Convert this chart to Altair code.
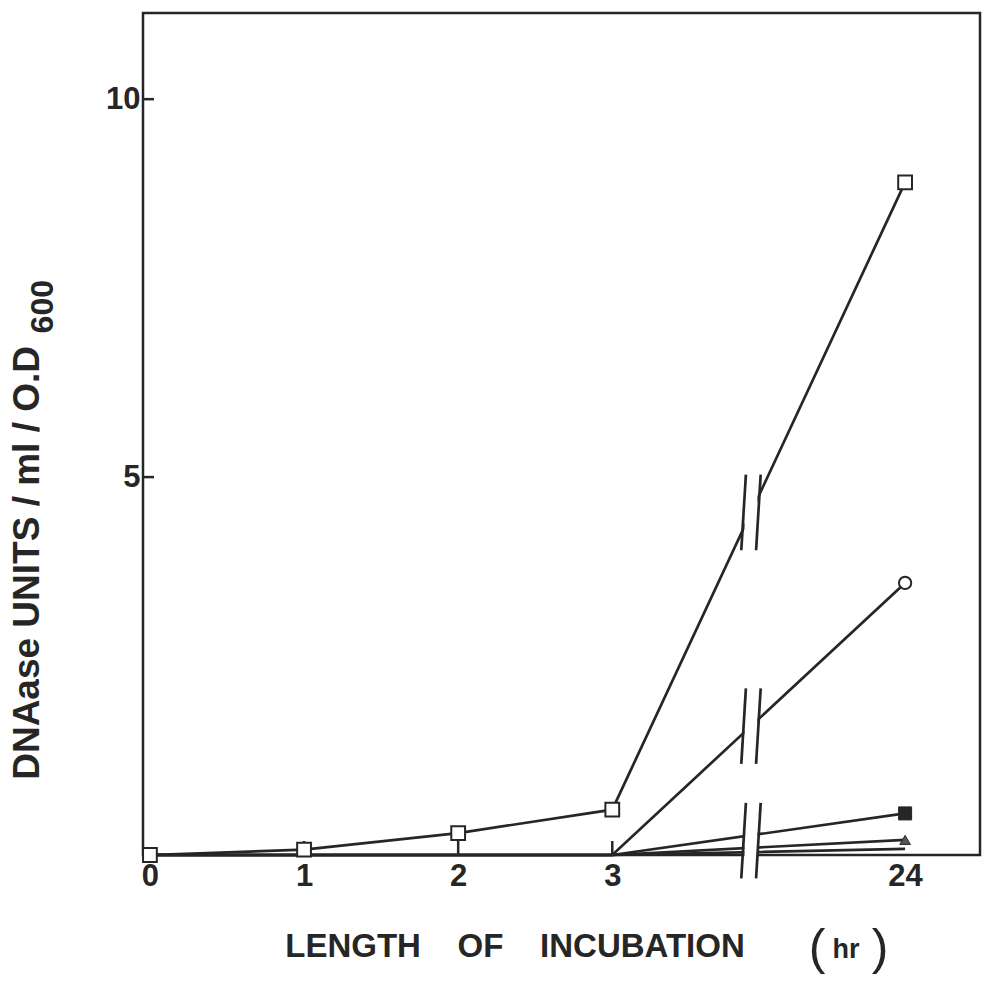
import altair as alt
import pandas as pd

# ---- data ----
hours = [0, 1, 2, 3, 24]
open_square = [0, 0.07, 0.29, 0.6, 8.9]
open_circle = [0, 0, 0, 0, 3.6]
filled_square = [0, 0, 0, 0, 0.55]
triangle = [0, 0, 0, 0, 0.2]
plain = [0, 0, 0, 0, 0.08]

x_tick_labels = ["0", "1", "2", "3", "24"]
y_tick_values = [5, 10]

x_title = "LENGTH\u00a0\u00a0\u00a0 OF\u00a0\u00a0\u00a0 INCUBATION"
x_unit = ["(", "hr", ")"]
y_title = "DNAase UNITS / ml / O.D"
y_title_sub = "600"

# broken time axis: 24 h drawn one step past the break
axis_slot = [0, 1, 2, 3, 4.9]
break_slot = 3.9

INK = "#262626"
FONT = "Liberation Sans, Arial, Helvetica, sans-serif"

series = {
    "open_square": open_square,
    "open_circle": open_circle,
    "filled_square": filled_square,
    "triangle": triangle,
    "plain": plain,
}
rows = []
for name, vals in series.items():
    for h, s, v in zip(hours, axis_slot, vals):
        rows.append({"series": name, "hour": h, "pos": s, "value": v})
df = pd.DataFrame(rows)


def at_break(vals):
    # value of the 3h->24h segment where it crosses the break
    f = (break_slot - axis_slot[3]) / (axis_slot[4] - axis_slot[3])
    return vals[3] + (vals[4] - vals[3]) * f


break_centers = [at_break(open_square), at_break(open_circle), 0.19]
gap = 0.048
tilt = 0.015
half = 0.5
brk_rows = []
for c in break_centers:
    for side in (-1, 1):
        brk_rows.append({"xa": break_slot + side * gap - tilt,
                         "xb": break_slot + side * gap + tilt,
                         "ya": c - half, "yb": c + half})
brk = pd.DataFrame(brk_rows)
gap_df = pd.DataFrame([{"xa": break_slot - gap + 0.006, "xb": break_slot + gap - 0.006,
                        "ya": c - 0.42, "yb": c + 0.42} for c in break_centers])

xscale = alt.Scale(domain=[-0.045, 5.386], nice=False, zero=False)
yscale = alt.Scale(domain=[0, 11.14], nice=False, zero=False)

label_expr = "datum.value > 4 ? '" + x_tick_labels[4] + "' : format(datum.value, 'd')"

xaxis = alt.Axis(
    values=axis_slot, labelExpr=label_expr, ticks=False, domain=False, grid=False,
    labelFont=FONT, labelFontSize=31, labelFontWeight="bold", labelColor=INK,
    labelPadding=6, labelBaseline="top", title=None,
)
yaxis = alt.Axis(
    values=y_tick_values, format="d", ticks=False, domain=False, grid=False,
    labelFont=FONT, labelFontSize=31, labelFontWeight="bold", labelColor=INK,
    labelPadding=3, title=None,
)

base = alt.Chart(df)

lines = base.mark_line(color=INK, strokeWidth=2.7).encode(
    x=alt.X("pos:Q", scale=xscale, axis=xaxis),
    y=alt.Y("value:Q", scale=yscale, axis=yaxis),
    detail="series:N",
    order="pos:Q",
)

gaps = alt.Chart(gap_df).mark_rect(color="white").encode(
    x=alt.X("xa:Q", scale=xscale), x2="xb:Q",
    y=alt.Y("ya:Q", scale=yscale), y2="yb:Q",
)

slashes = alt.Chart(brk).mark_rule(color=INK, strokeWidth=2.7).encode(
    x=alt.X("xa:Q", scale=xscale), x2="xb:Q",
    y=alt.Y("ya:Q", scale=yscale), y2="yb:Q",
)

ticks_df = pd.DataFrame({"pos": axis_slot[1:4]})
xticks = alt.Chart(ticks_df).mark_rule(color=INK, strokeWidth=2.5).encode(
    x=alt.X("pos:Q", scale=xscale), y=alt.value(842), y2=alt.value(828)
)
yticks = alt.Chart(pd.DataFrame({"v": y_tick_values})).mark_rule(color=INK, strokeWidth=2.5).encode(
    y=alt.Y("v:Q", scale=yscale), x=alt.value(0), x2=alt.value(11)
)

pt_enc = dict(x=alt.X("pos:Q", scale=xscale), y=alt.Y("value:Q", scale=yscale))

osq = base.transform_filter("datum.series == 'open_square'").mark_point(
    shape="square", size=190, filled=True, fill="white", stroke=INK, strokeWidth=2, opacity=1
).encode(**pt_enc)
ocir = base.transform_filter("datum.series == 'open_circle' && datum.hour == 24").mark_point(
    shape="circle", size=150, filled=True, fill="white", stroke=INK, strokeWidth=2, opacity=1
).encode(**pt_enc)
fsq = base.transform_filter("datum.series == 'filled_square' && datum.hour == 24").mark_point(
    shape="square", size=170, filled=True, fill=INK, stroke=INK, strokeWidth=1, opacity=1
).encode(**pt_enc)
tri = base.transform_filter("datum.series == 'triangle' && datum.hour == 24").mark_point(
    shape="triangle-up", size=110, filled=True, fill="#555555", stroke=INK, strokeWidth=1, opacity=1
).encode(**pt_enc)


def label(text, x, y, size, angle=0, align="center", weight="bold"):
    kw = dict(font=FONT, fontSize=size, fontWeight=weight, color=INK,
              align=align, baseline="middle")
    if angle:
        kw["angle"] = angle
    return alt.Chart(pd.DataFrame({"t": [text]})).mark_text(**kw).encode(
        text="t:N", x=alt.value(x), y=alt.value(y)
    )


titles = [
    label(x_title, 372, 934, 33),
    label(x_unit[0], 674, 936, 50, weight="normal"),
    label(x_unit[1], 703, 937, 27),
    label(x_unit[2], 737, 936, 50, weight="normal"),
    label(y_title, -115, 333, 37, angle=270, align="right"),
    label(y_title_sub, -100, 267, 32, angle=270, align="right"),
]

chart = alt.layer(lines, gaps, slashes, xticks, yticks, osq, ocir, fsq, tri, *titles).properties(
    width=837, height=842,
    autosize=alt.AutoSizeParams(type="none"),
    padding={"left": 143, "top": 13, "right": 6, "bottom": 134},
    background="white",
).configure_view(stroke=INK, strokeWidth=2.5)

chart.save("out.html", embed_options={"renderer": "svg", "actions": False})
